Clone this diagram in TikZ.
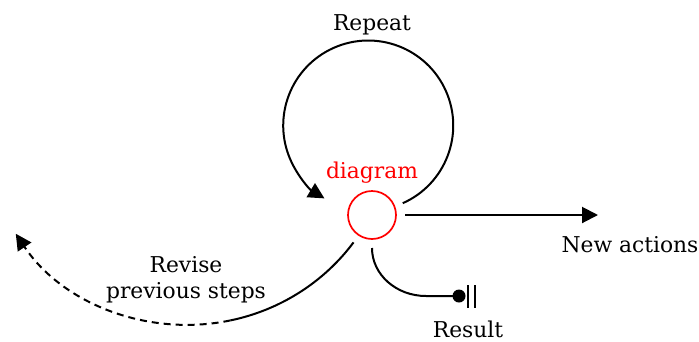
\documentclass[tikz,border=0pt]{standalone}
\usepackage{fontspec}
\setmainfont{DejaVu Serif}
\usetikzlibrary{arrows.meta}
\begin{document}
\begin{tikzpicture}[x=1pt,y=-1pt,
  lbl/.style={font=\fontsize{21.8}{26}\selectfont, anchor=base, inner sep=0pt},
  conn/.style={line width=2pt},
  tri/.style={-{Triangle[length=16pt,width=16pt]}},
  hub/.style={circle, draw=red, line width=1.7pt, minimum size=48pt, inner sep=0pt, outer sep=9pt}]
\useasboundingbox (0,0) rectangle (699,341);
\node[hub] (c) at (372,215) {};
\node[lbl, text=red] (dg) at (372,178) {diagram};
\node[lbl] (rep) at (372,30) {Repeat};
\node[lbl] (na) at (630,252) {New actions};
\node[lbl] (rs) at (468,337) {Result};
\node[lbl] (rv1) at (186,272) {Revise};
\node[lbl] (rv2) at (186,298) {previous steps};
\coordinate (naend) at (598,215);
\coordinate (res) at (459,296);
% loop
\draw[conn, tri] (c.21) arc[start angle=66, end angle=-239, radius=85];
% new actions
\draw[conn, tri] (c.east) -- (naend);
% revise
\draw[conn] (c.-124) arc[start angle=36, end angle=78, x radius=205, y radius=200] coordinate (mid);
\draw[conn, dash pattern=on 7pt off 5pt, tri] (mid) arc[start angle=78, end angle=147, x radius=205, y radius=200];
% result
\draw[conn] (c.south) arc[start angle=180, end angle=90, x radius=54, y radius=48] -- (res);
\fill (res) circle[radius=6.5];
\draw[line width=2pt] ([xshift=9]res) ++(0,-11) -- ++(0,23);
\draw[line width=2pt] ([xshift=16]res) ++(0,-11) -- ++(0,23);
\end{tikzpicture}
\end{document}
